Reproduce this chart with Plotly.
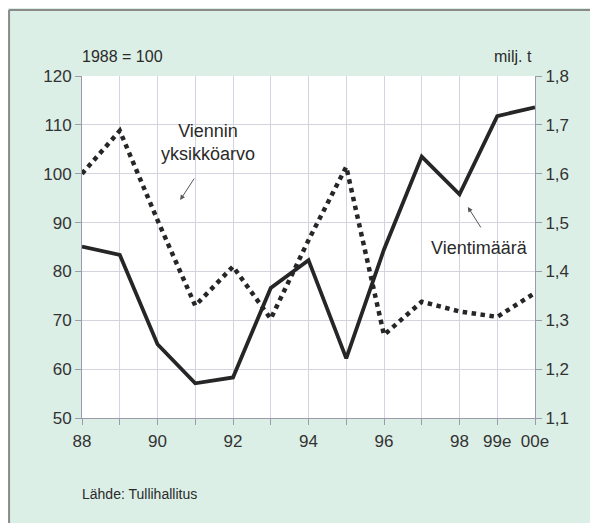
import plotly.graph_objects as go

years = ["88", "89", "90", "91", "92", "93", "94", "95", "96", "97", "98", "99e", "00e"]
tick_labels = ["88", "90", "92", "94", "96", "98", "99e", "00e"]
tick_pos = [0, 2, 4, 6, 8, 10, 11, 12]

# Viennin yksikköarvo, 1988 = 100 (left axis)
yksikkoarvo = [100, 108.8, 90.5, 73, 81, 70.3, 86.4, 101.4, 67, 73.8, 71.8, 70.7, 75.6]
# Vientimäärä, milj. t (right axis)
vientimaara = [1.451, 1.434, 1.251, 1.171, 1.183, 1.366, 1.423, 1.222, 1.445, 1.635, 1.558, 1.718, 1.736]

x = list(range(len(years)))
FONT = "Liberation Sans, Arial, sans-serif"
BG = "#dcefe6"
GRID = "#d4d4e0"
INK = "#2a2a2a"

fig = go.Figure()
fig.add_trace(go.Scatter(x=x, y=yksikkoarvo, mode="lines", name="Viennin yksikköarvo",
                         line=dict(color="#262626", width=4.5, dash="dot")))
fig.add_trace(go.Scatter(x=x, y=vientimaara, mode="lines", name="Vientimäärä", yaxis="y2",
                         line=dict(color="#262626", width=3.8)))

# grey frame on the top and left edge
fig.add_shape(type="line", xref="paper", yref="paper", x0=-0.161, x1=1.3, y0=1.193, y1=1.193,
              line=dict(color="#8a8a8a", width=2))
fig.add_shape(type="line", xref="paper", yref="paper", x0=-0.161, x1=-0.161, y0=-0.4, y1=1.193,
              line=dict(color="#8a8a8a", width=2))

ann_font = dict(family=FONT, size=18, color=INK)
fig.add_annotation(x=3.34, y=106.3, text="Viennin<br>yksikköarvo", showarrow=False, font=ann_font)
fig.add_annotation(x=2.6, y=94.6, ax=15, ay=-23, text="", showarrow=True, arrowhead=2,
                   arrowsize=1, arrowwidth=1, arrowcolor="#555")
fig.add_annotation(x=10.54, y=84.8, text="Vientimäärä", showarrow=False, font=ann_font)
fig.add_annotation(x=10.22, y=93.2, ax=14, ay=22, text="", showarrow=True, arrowhead=2,
                   arrowsize=1, arrowwidth=1, arrowcolor="#555")

lab_font = dict(family=FONT, size=16, color=INK)
fig.add_annotation(xref="paper", yref="paper", x=-0.004, y=1.058, xanchor="left", yanchor="middle",
                   text="1988 = 100", showarrow=False, font=lab_font)
fig.add_annotation(xref="paper", yref="paper", x=0.998, y=1.058, xanchor="right", yanchor="middle",
                   text="milj. t", showarrow=False, font=lab_font)
fig.add_annotation(xref="paper", yref="paper", x=-0.004, y=-0.222, xanchor="left", yanchor="middle",
                   text="Lähde: Tullihallitus", showarrow=False, font=dict(family=FONT, size=14, color=INK))

axis_font = dict(family=FONT, size=17, color="#333")
fig.update_layout(
    width=590, height=515,
    margin=dict(l=74, r=63, t=68, b=105),
    paper_bgcolor=BG, plot_bgcolor="white",
    separators=", ",
    showlegend=False,
    xaxis=dict(range=[0, 12], tickvals=tick_pos, ticktext=tick_labels, tickfont=axis_font,
               showgrid=False, ticks="", ticklabelstandoff=8, showline=True,
               linecolor="#9a9aa8", linewidth=1, zeroline=False,
               minor=dict(tick0=0, dtick=1, showgrid=True, gridcolor=GRID, gridwidth=1,
                          ticks="outside", ticklen=6, tickcolor="#9a9aa8")),
    yaxis=dict(range=[50, 120], dtick=10, tickfont=axis_font, showgrid=True, gridcolor=GRID,
               ticks="outside", ticklen=6, tickcolor="#9a9aa8", showline=True,
               linecolor="#9a9aa8", zeroline=False),
    yaxis2=dict(range=[1.1, 1.8], dtick=0.1, tickformat=".1f", tickfont=axis_font, overlaying="y",
                side="right", showgrid=False, ticks="outside", ticklen=6, tickcolor="#9a9aa8",
                showline=True, linecolor="#9a9aa8", zeroline=False),
)

fig.write_html("out.html")
